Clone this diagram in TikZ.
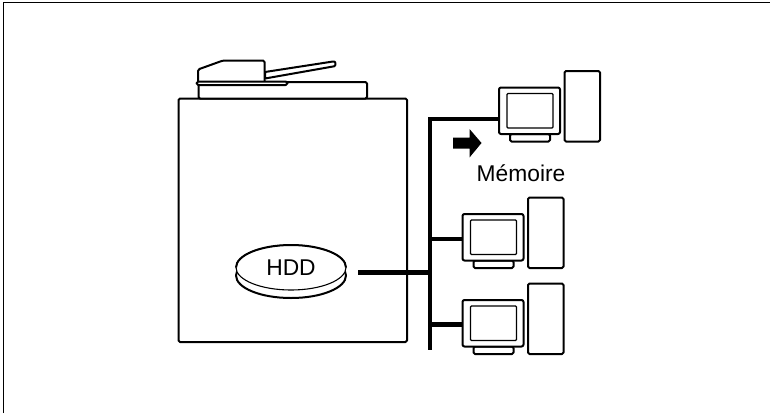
\documentclass[tikz,border=0pt]{standalone}
\usepackage{fontspec}
\setmainfont{Liberation Sans}
\tikzset{
  outl/.style={draw=black,line width=2pt,line join=round,line cap=round,fill=white},
  thin outl/.style={draw=black,line width=1.3pt,fill=white},
  busline/.style={draw=black,line width=4.8pt},
  txt/.style={font=\fontsize{22.8pt}{25pt}\selectfont,inner sep=0pt,text=black}
}
\begin{document}
\begin{tikzpicture}[x=1pt,y=-1pt]
\useasboundingbox (0,0) rectangle (770,413);
\fill[white] (0,0) rectangle (770,413);
\draw[black,line width=1pt] (3.5,413) -- (3.5,2.4) -- (770,2.4);
% machine
\draw[outl,rounded corners=1.5pt] (178.5,342) rectangle (407,98.5);
\draw[outl,rounded corners=1.5pt] (198.5,98.5) rectangle (367,82);
\draw[outl,rounded corners=1pt] (265,72) -- (333,61.5) .. controls (336,61.5) and (336,66) .. (333,66.5) -- (265,78.5) -- cycle;
\draw[outl,rounded corners=1.5pt] (198,84) -- (198,69.5) -- (223,60.5) -- (264.5,60.5) -- (264.5,84) -- cycle;
\draw[outl,rounded corners=1.8pt] (196.5,81.5) rectangle (287.5,85);
% hdd
\draw[outl] (291,275.5) ellipse [x radius=55,y radius=22.5];
\draw[draw=black,line width=1.1pt,fill=white] (291,267.5) ellipse [x radius=55,y radius=22.5];
\draw[draw=black,line width=2pt] (236,267.5) arc[start angle=180,end angle=0,x radius=55,y radius=-22.5];
\node[txt] (hdd) at (291,268) {HDD};
\coordinate (hddout) at (358,272.3);
\coordinate (junction) at (430,272.3);
% bus
\coordinate (bustop) at (430,119);
\coordinate (busbot) at (430,350);
\draw[busline,line join=miter] (499,119) -- (bustop) -- (busbot);
\draw[busline] (hddout) -- (junction);
\draw[busline] (430,239) -- (463,239);
\draw[busline] (430,324.5) -- (463,324.5);
% computers
\foreach \dx/\dy in {0/0,-36.5/126.5,-36.5/212.5}{
 \begin{scope}[shift={(\dx,\dy)}]
 \draw[outl,rounded corners=1.5pt] (564.5,71) rectangle (600,141.5);
 \draw[outl,rounded corners=1.5pt] (510,134) rectangle (550,141.5);
 \draw[outl,rounded corners=2pt] (499,87.5) rectangle (560,134);
 \draw[thin outl,rounded corners=1pt] (507,93.5) rectangle (553,128);
 \end{scope}
}
% arrow
\fill[black] (453,137.5) -- (469.5,137.5) -- (469.5,129) -- (481.5,143) -- (469.5,157.5) -- (469.5,148.5) -- (453,148.5) -- cycle;
\node[txt] (mem) at (521,173) {Mémoire};
\end{tikzpicture}
\end{document}
